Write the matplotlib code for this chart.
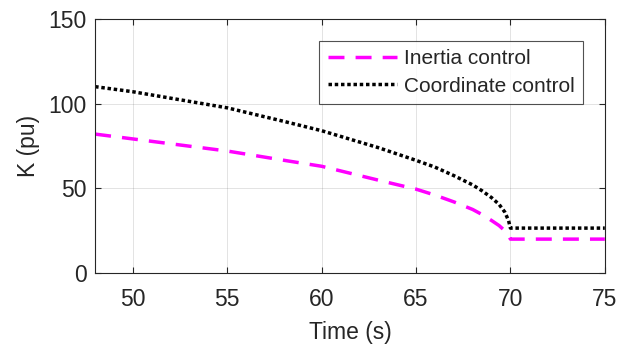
import matplotlib
matplotlib.use('Agg')
import matplotlib.pyplot as plt

plt.rcParams['font.family'] = ['Liberation Sans', 'DejaVu Sans']

TXT = '#262626'

# Inertia control (magenta dashed)
t_inertia = [48, 55, 58.3, 60, 63.3, 65, 66, 67, 68, 68.5, 69, 69.4, 69.7, 69.9, 70, 75]
k_inertia = [82, 72, 66, 63, 54, 49.5, 46, 42, 37.5, 34.5, 31, 28, 25, 22.5, 20, 20]

# Coordinate control (black dotted)
t_coord = [48, 50, 55, 58, 60, 63, 65, 66, 67, 68, 68.5, 69, 69.4, 69.7, 69.9, 70, 75]
k_coord = [110, 107, 97.5, 89.5, 84, 74, 66.5, 62.5, 57.5, 52, 48.5, 44.5, 40.5, 36, 31, 26.5, 26.5]

xticks = [50, 55, 60, 65, 70, 75]
yticks = [0, 50, 100, 150]

fig = plt.figure(figsize=(6.3, 3.5), dpi=100)
ax = fig.add_axes([0.151, 0.22, 0.809, 0.726])

ax.plot(t_inertia, k_inertia, color='#FF00FF', lw=2.5, dashes=(4.6, 3.2),
        label='Inertia control')
ax.plot(t_coord, k_coord, color='black', lw=2.5, dashes=(1.0, 0.8),
        label='Coordinate control')

ax.set_xlim(48, 75)
ax.set_ylim(0, 150)
ax.set_xticks(xticks)
ax.set_yticks(yticks)
ax.grid(True, color='#262626', alpha=0.15, lw=0.6)
ax.set_axisbelow(True)

for s in ax.spines.values():
    s.set_color(TXT)
    s.set_linewidth(0.8)
ax.tick_params(direction='in', length=4, width=0.8, colors=TXT,
               labelsize=16.5, top=True, right=True)
ax.tick_params(axis='x', pad=11)
ax.tick_params(axis='y', pad=6)
for lbl in ax.get_xticklabels() + ax.get_yticklabels():
    lbl.set_color(TXT)

ax.set_xlabel('Time (s)', fontsize=16.5, color=TXT, labelpad=7)
ax.set_ylabel('K (pu)', fontsize=16.5, color=TXT, labelpad=6)

leg = ax.legend(loc='upper right', bbox_to_anchor=(0.957, 0.913), fontsize=15,
                handlelength=3.3, handletextpad=0.35, labelspacing=0.4,
                borderpad=0.4, borderaxespad=0, frameon=True, fancybox=False)
leg.get_frame().set_edgecolor(TXT)
leg.get_frame().set_linewidth(0.8)
for t in leg.get_texts():
    t.set_color(TXT)

fig.savefig('out.png', dpi=100, facecolor='white')
